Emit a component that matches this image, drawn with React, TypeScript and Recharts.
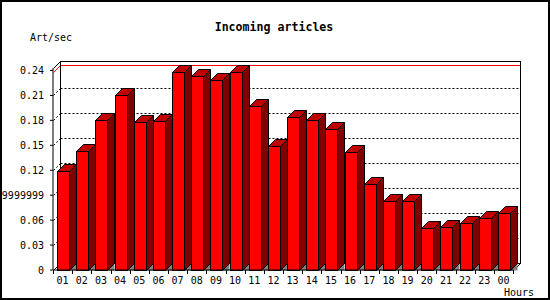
import { BarChart, Bar, XAxis, YAxis, CartesianGrid, ReferenceArea } from "recharts";

const HOURS = [
  "01", "02", "03", "04", "05", "06", "07", "08", "09", "10", "11", "12",
  "13", "14", "15", "16", "17", "18", "19", "20", "21", "22", "23", "00",
];
const ART_PER_SEC = [
  0.119, 0.143, 0.18, 0.211, 0.178, 0.179, 0.238, 0.233, 0.228, 0.238, 0.197, 0.149,
  0.184, 0.18, 0.17, 0.142, 0.104, 0.083, 0.083, 0.05, 0.052, 0.056, 0.063, 0.068,
];
const Y_TICKS = [0, 0.03, 0.06, 0.09, 0.12, 0.15, 0.18, 0.21, 0.24];
const Y_TICK_LABELS = ["0", "0.03", "0.06", "0.09999999", "0.12", "0.15", "0.18", "0.21", "0.24"];
const GRID_LINES = [0.03, 0.06, 0.09, 0.12, 0.15, 0.18, 0.21];

const W = 550;
const H = 300;
const MARGIN = { top: 68, right: 37, bottom: 0, left: 0 };
const Y_AXIS_W = 53;
const X_AXIS_H = 30;
const AXIS_Y = H - X_AXIS_H;
const DEPTH = 7;
const FONT = "'DejaVu Sans Mono', monospace";

const data = HOURS.map((hour, i) => ({ hour, value: ART_PER_SEC[i] }));
const maxValue = Math.max(...ART_PER_SEC);
const band = (W - MARGIN.right - Y_AXIS_W) / HOURS.length;

// snap to pixel centres so 1px strokes stay crisp
const px = (v: number) => Math.round(v) + 0.5;

// back wall + floor/wall edges of the 3D box
function Frame(props: any) {
  const { x, y, width, height } = props;
  const l = px(x);
  const t = px(y);
  const r = px(x + width);
  const b = px(y + height);
  const d = DEPTH;
  return (
    <g>
      <rect x={l + d} y={t - d} width={r - l} height={b - t} fill="none" stroke="#000" />
      <line x1={l} y1={t} x2={l + d} y2={t - d} stroke="#000" />
      <line x1={l} y1={b} x2={l + d} y2={b - d} stroke="#000" />
      <line x1={r} y1={b} x2={r + d} y2={b - d} stroke="#000" />
    </g>
  );
}

// a grid line pushed onto the back wall, with its trace on the left wall
function gridShape(color: string, dashed: boolean) {
  return (props: any) => {
    const { x1, x2, y1 } = props;
    const l = px(x1);
    const r = px(x2);
    const y = px(y1);
    const d = DEPTH;
    const dash = dashed ? "2 2" : undefined;
    return (
      <g key={props.key}>
        <line x1={l + d} y1={y - d} x2={r + d} y2={y - d} stroke={color} strokeDasharray={dash} />
        <line x1={l} y1={y} x2={l + d} y2={y - d} stroke={color} strokeDasharray={dash} />
      </g>
    );
  };
}

function Bar3D(props: any) {
  const { x, y, width, height } = props;
  const l = px(x);
  const t = px(y);
  const r = l + Math.round(width);
  const b = px(y + height);
  const d = DEPTH;
  return (
    <g>
      <polygon points={`${r},${b} ${r + d},${b - d} ${r + d},${b}`} fill="#808080" />
      <polygon
        points={`${r},${t} ${r + d},${t - d} ${r + d},${b - d} ${r},${b}`}
        fill="#800000"
        stroke="#000"
      />
      <polygon
        points={`${l},${t} ${l + d},${t - d} ${r + d},${t - d} ${r},${t}`}
        fill="#c00000"
        stroke="#000"
      />
      <rect x={l} y={t} width={r - l} height={b - t} fill="#ff0000" stroke="#000" />
    </g>
  );
}

function HourTick(props: any) {
  const { x, payload, index } = props;
  const left = px(x - band / 2);
  const right = px(x + band / 2);
  return (
    <g>
      <line x1={left} y1={AXIS_Y} x2={left} y2={AXIS_Y + 4} stroke="#000" />
      {index === HOURS.length - 1 && (
        <line x1={right} y1={AXIS_Y} x2={right} y2={AXIS_Y + 4} stroke="#000" />
      )}
      <text x={x} y={AXIS_Y + 13.5} textAnchor="middle" fontFamily={FONT} fontSize={10} fill="#000">
        {payload.value}
      </text>
    </g>
  );
}

export default function App() {
  return (
    <div style={{ position: "absolute", left: 0, top: 0, width: W, height: H, background: "#fff" }}>
      <BarChart width={W} height={H} data={data} margin={MARGIN}>
        <ReferenceArea y1={0} y2={0.243} shape={<Frame />} />
        <CartesianGrid
          vertical={false}
          horizontalValues={GRID_LINES}
          horizontal={gridShape("#000", true)}
        />
        <CartesianGrid
          vertical={false}
          horizontalValues={[maxValue]}
          horizontal={gridShape("#ff0000", false)}
        />
        <XAxis
          dataKey="hour"
          height={X_AXIS_H}
          interval={0}
          tickLine={false}
          axisLine={{ stroke: "#000" }}
          tick={<HourTick />}
        />
        <YAxis
          width={Y_AXIS_W}
          domain={[0, 0.243]}
          ticks={Y_TICKS}
          tickFormatter={(v: number) => Y_TICK_LABELS[Y_TICKS.indexOf(v)] ?? String(v)}
          tickSize={3}
          tickMargin={6}
          tickLine={{ stroke: "#000" }}
          axisLine={{ stroke: "#000" }}
          tick={{ fontSize: 10, fontFamily: FONT, fill: "#000" }}
        />
        <Bar dataKey="value" barSize={12} shape={<Bar3D />} isAnimationActive={false} />
      </BarChart>
      <svg
        width={W}
        height={H}
        style={{ position: "absolute", left: 0, top: 0, pointerEvents: "none" }}
      >
        <rect x={1} y={1} width={W - 2} height={H - 2} fill="none" stroke="#000" strokeWidth={2} />
        <text x={274} y={31} textAnchor="middle" fontFamily={FONT} fontSize={11.6} fontWeight="bold">
          Incoming articles
        </text>
        <text x={30} y={41} fontFamily={FONT} fontSize={10}>
          Art/sec
        </text>
        <text x={504} y={296} fontFamily={FONT} fontSize={10}>
          Hours
        </text>
      </svg>
    </div>
  );
}
